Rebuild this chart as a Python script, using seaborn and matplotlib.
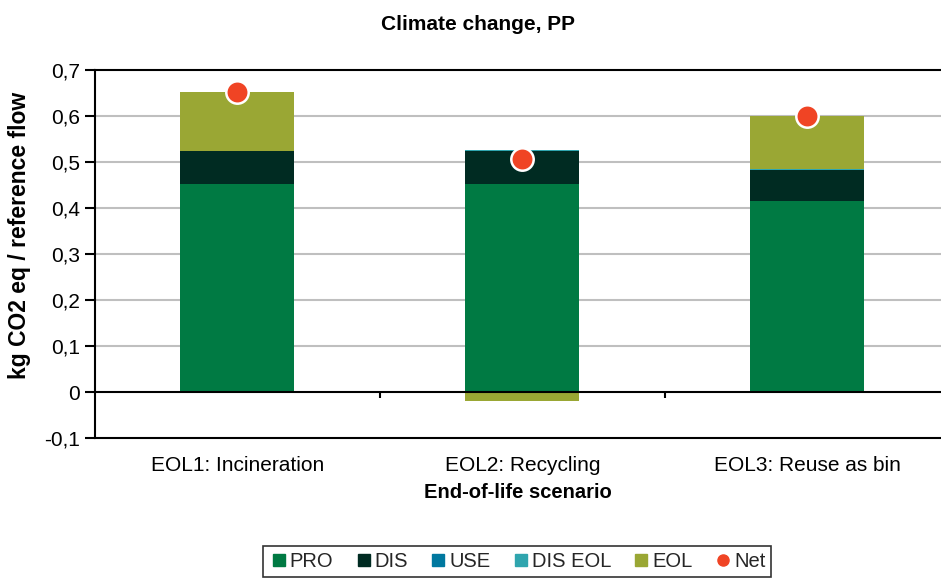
import matplotlib

matplotlib.use("Agg")
import matplotlib.pyplot as plt
import numpy as np
import pandas as pd
import seaborn as sns
from matplotlib.lines import Line2D
from matplotlib.ticker import FuncFormatter

scenarios = ["EOL1: Incineration", "EOL2: Recycling", "EOL3: Reuse as bin"]
stages = ["PRO", "DIS", "USE", "DIS EOL", "EOL"]
pro = [0.452, 0.452, 0.415]
dis = [0.071, 0.072, 0.068]
use = [0.0, 0.0, 0.0]
dis_eol = [0.001, 0.001, 0.001]
eol = [0.128, -0.019, 0.116]
net = [0.652, 0.506, 0.600]

stage_colors = ["#007A43", "#002B22", "#00789F", "#2FA5AE", "#9AA734"]
net_color = "#F04424"

sns.set_theme(style="white")
plt.rcParams["font.family"] = ["Liberation Sans", "DejaVu Sans"]

fig = plt.figure(figsize=(9.41, 5.78), dpi=100)
ax = fig.add_axes([95 / 941, 1 - 438 / 578, (941 - 95) / 941, (438 - 70) / 578])

ax.set_ylim(-0.1, 0.7)
ax.set_yticks(np.arange(-0.1, 0.71, 0.1))
for y in np.arange(0.1, 0.65, 0.1):
    ax.axhline(y, color="#BFBFBF", linewidth=1.5, zorder=0)

# stack positives upward and negatives downward from zero
pos_base = np.zeros(len(scenarios))
neg_base = np.zeros(len(scenarios))
for name, vals, col in zip(stages, [pro, dis, use, dis_eol, eol], stage_colors):
    vals = np.array(vals)
    bottoms = np.where(vals >= 0, pos_base, neg_base)
    df = pd.DataFrame({"scenario": scenarios, "value": vals})
    sns.barplot(data=df, x="scenario", y="value", bottom=bottoms, color=col,
                width=0.4, saturation=1, ax=ax, zorder=2, errorbar=None,
                edgecolor="none")
    pos_base = pos_base + np.where(vals >= 0, vals, 0)
    neg_base = neg_base + np.where(vals < 0, vals, 0)

sns.scatterplot(x=scenarios, y=net, s=260, color=net_color, edgecolor="white",
                linewidth=1.8, zorder=5, ax=ax, clip_on=False)

ax.axhline(0, color="black", linewidth=1.5, zorder=3)
ax.vlines([0.5, 1.5], -0.014, 0, color="black", linewidth=1.5, zorder=3)

ax.set_xlim(-0.5, 2.47)
ax.set_ylim(-0.1, 0.7)

for side in ["top", "bottom", "left"]:
    ax.spines[side].set_visible(True)
    ax.spines[side].set_color("black")
    ax.spines[side].set_linewidth(1.5)
ax.spines["right"].set_visible(False)

ax.yaxis.set_major_formatter(FuncFormatter(lambda v, p: ("%g" % round(v, 1)).replace(".", ",")))
ax.tick_params(axis="y", which="major", left=True, direction="out", length=7, width=1.5,
               color="black", labelsize=15, pad=4, labelcolor="black")
ax.tick_params(axis="x", bottom=False, labelsize=15, pad=7, labelcolor="black")

ax.set_xlabel("End-of-life scenario", fontsize=14.5, fontweight="bold", labelpad=6, color="black")
ax.set_ylabel("kg CO2 eq / reference flow", fontsize=16.5, fontweight="bold", color="black")
ax.yaxis.set_label_coords(-0.076, 0.55)
fig.text(478 / 941, 1 - 25 / 578, "Climate change, PP", ha="center", va="center",
         fontsize=15, fontweight="bold", color="black")

handles = [Line2D([], [], marker="s", linestyle="none", color=c, markersize=9) for c in stage_colors]
handles.append(Line2D([], [], marker="o", linestyle="none", color=net_color, markersize=8))
leg = fig.legend(handles, stages + ["Net"], loc="upper center", bbox_to_anchor=(517 / 941, 1 - 536 / 578),
                 ncol=6, frameon=True, fontsize=14.5, handletextpad=0.05, columnspacing=1.0,
                 borderpad=0.3, handlelength=1.0, fancybox=False)
leg.get_frame().set_edgecolor("black")
leg.get_frame().set_linewidth(1.2)

fig.savefig("out.png", dpi=100)
